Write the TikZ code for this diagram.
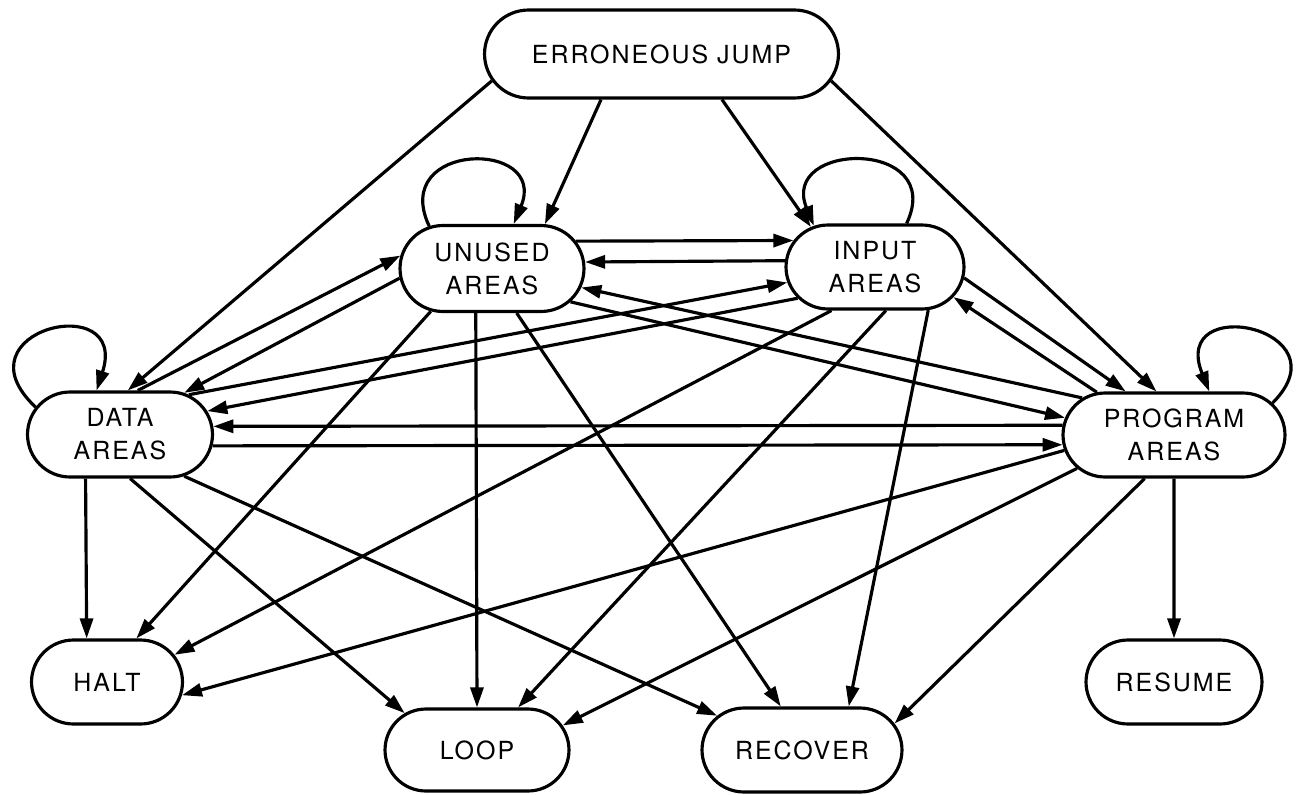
\documentclass[tikz,border=0pt]{standalone}
\usepackage{fontspec}
\setmainfont{TeX Gyre Heros}[LetterSpace=8]
\usetikzlibrary{shapes.misc,arrows.meta,calc}
\begin{document}
\begin{tikzpicture}[x=0.02cm, y=-0.02cm,
  box/.style={rounded rectangle, draw, line width=1.8pt, fill=white,
    inner xsep=0pt, inner ysep=0pt, align=center,
    font=\fontsize{14.2}{18.7}\selectfont},
  arr/.style={line width=1.8pt, -{Triangle[length=0.4cm,width=0.26cm]}}]

\useasboundingbox (0,0) rectangle (1303,795);

% states
\node[box, minimum width=7.08cm, minimum height=1.76cm] (EJ) at (661.5,54) {ERRONEOUS JUMP};
\node[box, minimum width=3.68cm, minimum height=1.72cm] (U) at (492,268.5) {UNUSED\\AREAS};
\node[box, minimum width=3.56cm, minimum height=1.68cm] (I) at (875,267) {INPUT\\AREAS};
\node[box, minimum width=3.70cm, minimum height=1.70cm] (D) at (120,434.5) {DATA\\AREAS};
\node[box, minimum width=4.44cm, minimum height=1.68cm] (P) at (1174,435) {PROGRAM\\AREAS};
\node[box, minimum width=3.02cm, minimum height=1.68cm] (H) at (107,682) {HALT};
\node[box, minimum width=3.68cm, minimum height=1.64cm] (L) at (477,750) {LOOP};
\node[box, minimum width=4.00cm, minimum height=1.68cm] (R) at (802,750) {RECOVER};
\node[box, minimum width=3.52cm, minimum height=1.68cm] (S) at (1174,682) {RESUME};

% erroneous jump
\draw[arr] (EJ.189) -- (D.80);
\draw[arr] (EJ.217) -- (U.40);
\draw[arr] (EJ.323) -- (I.148);
\draw[arr] (EJ.351) -- (P.112);

% unused areas
\draw[arr] (U.18.5) -- (I.162);
\draw[arr] (U.186) -- (D.33);
\draw[arr] (U.337) -- (P.171);
\draw[arr] (U.215) -- (H.56);
\draw[arr] (U.250.6) -- (L.90);
\draw[arr] (U.299.5) -- (R.116.6);
\draw[arr] (U.146) .. controls ($(U.146)+(-40,-85)$) and ($(U.64)+(35,-85)$) .. (U.64);

% input areas
\draw[arr] (I.176.8) -- (U.4.1);
\draw[arr] (I.202.4) -- (D.15.2);
\draw[arr] (I.353.5) -- (P.138.2);
\draw[arr] (I.225.7) -- (H.22.3);
\draw[arr] (I.284.7) -- (L.46.4);
\draw[arr] (I.321.3) -- (R.43.7);
\draw[arr] (I.54.5) .. controls ($(I.54.5)+(40,-85)$) and ($(I.146)+(-35,-85)$) .. (I.146);

% data areas
\draw[arr] (D.68) -- (U.172);
\draw[arr] (D.30) -- (I.190);
\draw[arr] (D.353.4) -- (P.185.2);
\draw[arr] (D.232.2) -- (H.115.5);
\draw[arr] (D.283.2) -- (L.153.4);
\draw[arr] (D.327.3) -- (R.158);
\draw[arr] (D.162) .. controls ($(D.162)+(-82,-77)$) and ($(D.118)+(33,-102)$) .. (D.118);

% program areas
\draw[arr] (P.175.3) -- (D.5.3);
\draw[arr] (P.158.5) -- (U.348);
\draw[arr] (P.151.8) -- (I.339.5);
\draw[arr] (P.188.7) -- (H.350.8);
\draw[arr] (P.199.8) -- (L.16);
\draw[arr] (P.236.7) -- (R.16.7);
\draw[arr] (P.270) -- (S.90);
\draw[arr] (P.18.4) .. controls ($(P.18.4)+(75,-75)$) and ($(P.51.8)+(-40,-100)$) .. (P.51.8);
\end{tikzpicture}
\end{document}
